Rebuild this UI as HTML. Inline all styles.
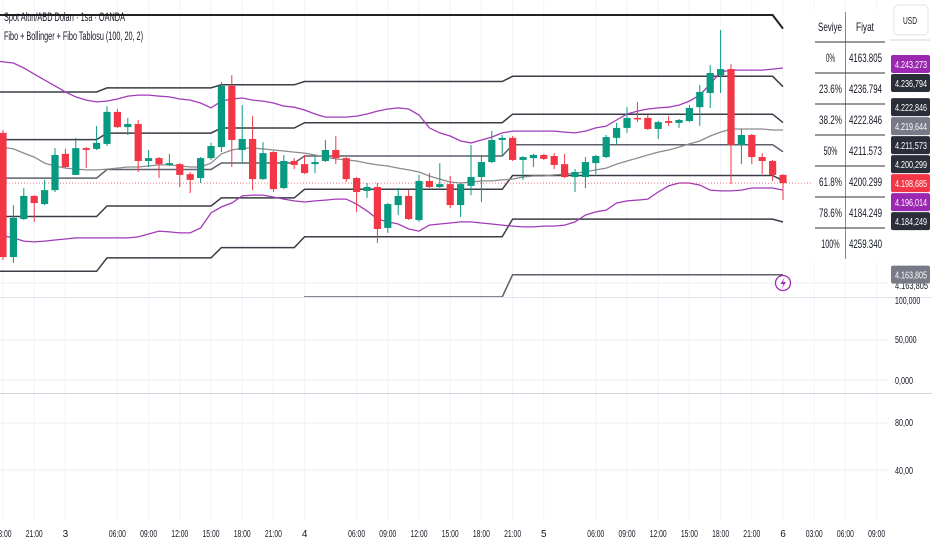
<!DOCTYPE html>
<html><head><meta charset="utf-8">
<style>
html,body{margin:0;padding:0;background:#fff;}
#wrap{position:relative;width:932px;height:550px;overflow:hidden;font-family:"Liberation Sans",sans-serif;}
svg{position:absolute;left:0;top:0;}
.t{font-family:"Liberation Sans",sans-serif;}
</style></head>
<body>
<div id="wrap">
<svg id="svg" width="932" height="550" viewBox="0 0 932 550"></svg>
</div>
<script>
const openArr=[4217.8,4170.5,4185.0,4193.8,4190.7,4196.0,4209.8,4201.8,4212.0,4211.7,4213.6,4225.8,4220.0,4221.2,4207.1,4208.2,4205.6,4205.9,4202.1,4200.6,4208.2,4212.4,4235.7,4211.3,4215.5,4200.2,4210.5,4196.8,4207.1,4205.9,4205.9,4207.1,4211.3,4208.2,4200.6,4195.7,4197.2,4181.6,4190.3,4193.8,4184.6,4199.5,4197.2,4198.3,4190.3,4197.6,4201.0,4206.7,4215.1,4215.9,4207.5,4208.2,4209.4,4209.0,4205.9,4201.0,4201.0,4206.3,4208.6,4215.9,4219.7,4223.5,4223.5,4219.3,4222.3,4221.6,4222.3,4227.6,4233.0,4239.8,4242.1,4213.2,4217.0,4208.6,4207.1,4201.8];
const highArr=[4218.9,4190.3,4196.8,4194.1,4199.9,4212.0,4211.7,4215.9,4212.4,4220.4,4228.0,4226.9,4223.5,4222.7,4211.3,4208.6,4209.8,4206.3,4202.9,4208.6,4214.0,4237.2,4239.8,4228.4,4224.2,4214.3,4210.9,4209.4,4208.2,4209.4,4208.6,4215.1,4216.6,4208.6,4201.0,4198.7,4198.7,4191.1,4196.8,4196.0,4201.8,4202.5,4206.3,4201.4,4198.7,4213.2,4209.4,4218.5,4217.0,4216.6,4209.0,4209.8,4209.8,4210.1,4209.8,4204.0,4208.6,4209.4,4217.0,4221.6,4227.6,4229.6,4224.6,4222.3,4224.2,4223.1,4228.4,4236.0,4243.6,4257.0,4244.0,4219.3,4217.4,4210.1,4207.5,4202.1];
const lowArr=[4169.4,4168.2,4184.6,4183.9,4190.3,4195.3,4204.4,4201.8,4204.4,4211.3,4212.8,4219.7,4217.0,4202.9,4204.8,4200.6,4205.2,4197.2,4194.9,4198.7,4207.5,4210.5,4204.8,4206.3,4196.0,4199.9,4195.3,4196.4,4204.0,4202.1,4202.5,4206.7,4205.9,4199.1,4187.7,4193.0,4175.9,4179.7,4186.5,4184.6,4183.9,4196.8,4196.8,4189.2,4185.8,4194.1,4191.5,4206.3,4209.4,4207.1,4199.9,4204.8,4207.5,4204.0,4200.6,4195.3,4196.8,4202.1,4208.2,4213.6,4217.8,4221.9,4218.9,4215.5,4220.4,4219.7,4221.9,4220.4,4227.3,4233.0,4198.3,4205.9,4205.9,4202.1,4199.5,4192.2];
const closeArr=[4170.5,4185.4,4193.8,4191.1,4196.0,4209.4,4204.8,4212.0,4211.3,4214.0,4225.8,4220.0,4221.2,4207.1,4208.2,4205.9,4206.3,4201.8,4199.9,4208.2,4212.8,4235.7,4215.1,4215.5,4200.2,4210.1,4196.4,4207.1,4205.6,4202.5,4206.7,4211.3,4208.2,4200.2,4195.3,4197.2,4181.2,4190.7,4193.8,4185.0,4199.5,4197.2,4198.3,4190.3,4198.3,4201.0,4206.7,4215.1,4215.9,4207.5,4208.6,4209.4,4207.9,4205.6,4201.0,4202.9,4206.7,4209.0,4216.2,4219.7,4223.5,4223.1,4219.3,4221.9,4221.6,4222.7,4227.3,4233.4,4240.6,4242.1,4213.2,4217.0,4208.6,4207.1,4201.8,4198.7];
const bbUpper=[4245.2,4244.4,4242.5,4240.2,4237.9,4235.7,4233.4,4231.5,4230.3,4229.6,4229.9,4230.7,4231.8,4232.2,4232.2,4231.8,4231.5,4230.7,4230.3,4229.2,4227.3,4229.9,4230.7,4231.1,4230.3,4229.9,4229.2,4228.0,4227.6,4226.5,4225.0,4223.8,4223.8,4223.8,4224.2,4225.0,4226.1,4226.9,4227.3,4226.9,4224.6,4219.7,4217.8,4216.6,4214.7,4214.0,4215.1,4216.2,4217.8,4218.5,4218.5,4218.5,4218.5,4218.5,4218.1,4217.8,4218.5,4219.7,4220.4,4222.7,4225.0,4226.1,4226.9,4227.3,4227.6,4228.4,4229.9,4232.2,4236.4,4241.0,4241.7,4241.7,4241.7,4241.7,4242.1,4242.5];
const bbMid=[4212.8,4211.7,4210.1,4208.6,4206.3,4205.2,4204.4,4204.0,4203.7,4203.7,4204.0,4204.4,4204.8,4204.8,4205.2,4205.6,4205.6,4205.2,4204.8,4204.8,4206.3,4209.8,4211.3,4212.0,4212.0,4211.7,4211.3,4210.9,4210.5,4210.1,4209.4,4208.6,4207.9,4207.5,4207.1,4206.3,4205.6,4205.2,4204.4,4203.7,4202.9,4201.4,4200.2,4199.1,4198.7,4199.1,4199.5,4199.5,4199.9,4200.2,4201.0,4201.4,4201.4,4201.8,4202.1,4202.5,4202.9,4203.7,4204.4,4205.9,4207.1,4208.2,4209.4,4210.5,4211.3,4212.4,4213.6,4214.7,4216.6,4218.1,4219.3,4219.3,4219.3,4219.3,4218.9,4218.9];
const bbLower=[4179.3,4177.8,4176.6,4176.3,4176.6,4177.0,4177.4,4177.8,4177.8,4177.8,4177.8,4177.8,4177.8,4178.2,4179.3,4180.4,4180.1,4179.7,4179.7,4181.6,4187.3,4189.6,4191.1,4193.8,4194.1,4194.1,4193.4,4192.6,4191.9,4191.5,4191.9,4192.2,4192.6,4192.6,4190.7,4188.1,4185.0,4183.9,4183.1,4181.2,4180.4,4182.7,4183.1,4183.5,4183.9,4183.9,4183.5,4183.1,4182.7,4182.3,4182.0,4182.0,4182.3,4182.3,4182.7,4183.9,4186.5,4187.7,4188.4,4191.1,4191.9,4192.2,4192.6,4195.3,4197.6,4198.7,4198.7,4197.9,4196.0,4195.7,4195.7,4196.0,4196.8,4196.8,4196.8,4196.0];
const fibHigh=[4262.7,4262.7,4262.7,4262.7,4262.7,4262.7,4262.7,4262.7,4262.7,4262.7,4262.7,4262.7,4262.7,4262.7,4262.7,4262.7,4262.7,4262.7,4262.7,4262.7,4262.7,4262.7,4262.7,4262.7,4262.7,4262.7,4262.7,4262.7,4262.7,4262.7,4262.7,4262.7,4262.7,4262.7,4262.7,4262.7,4262.7,4262.7,4262.7,4262.7,4262.7,4262.7,4262.7,4262.7,4262.7,4262.7,4262.7,4262.7,4262.7,4262.7,4262.7,4262.7,4262.7,4262.7,4262.7,4262.7,4262.7,4262.7,4262.7,4262.7,4262.7,4262.7,4262.7,4262.7,4262.7,4262.7,4262.7,4262.7,4262.7,4262.7,4262.7,4262.7,4262.7,4262.7,4262.7,4257.5];
const fibLow=[4138.5,4138.5,4138.5,4138.5,4138.5,4138.5,4138.5,4138.5,4138.5,4138.5,4145.0,4145.0,4145.0,4145.0,4145.0,4145.0,4145.0,4145.0,4145.0,4145.0,4145.0,4150.0,4150.0,4150.0,4150.0,4150.0,4150.0,4150.0,4150.0,4155.3,4155.3,4155.3,4155.3,4155.3,4155.3,4155.3,4155.3,4155.3,4155.3,4155.3,4155.3,4155.3,4155.3,4155.3,4155.3,4155.3,4155.3,4155.3,4155.3,4163.8,4163.8,4163.8,4163.8,4163.8,4163.8,4163.8,4163.8,4163.8,4163.8,4163.8,4163.8,4163.8,4163.8,4163.8,4163.8,4163.8,4163.8,4163.8,4163.8,4163.8,4163.8,4163.8,4163.8,4163.8,4163.8,4163.8];
const fibRatios=[0,0.236,0.382,0.5,0.618,0.786,1];
const tableLevels=["0%","23.6%","38.2%","50%","61.8%","78.6%","100%"];
const tablePrices=["4163.805","4236.794","4222.846","4211.573","4200.299","4184.249","4259.340"];
const axisLabelValues=[4243.273,4236.794,4222.846,4219.644,4211.573,4200.299,4198.685,4196.014,4184.249,4163.805];
const axisLabelTexts=["4.243,273","4.236,794","4.222,846","4.219,644","4.211,573","4.200,299","4.198,685","4.196,014","4.184,249","4.163,805"];
const axisLabelKinds=["purple","dark","dark","gray","dark","dark","red","purple","dark","gray"];
const timeTickIdx=[0,3,6,11,14,17,20,23,26,29,34,37,40,43,46,49,52,57,60,63,66,69,72,75,78,81,84];
const timeTickText=["18:00","21:00","3","06:00","09:00","12:00","15:00","18:00","21:00","4","06:00","09:00","12:00","15:00","18:00","21:00","5","06:00","09:00","12:00","15:00","18:00","21:00","6","03:00","06:00","09:00"];
const lowerPaneText=["100,000","50,000","0,000","80,00","40,00"];
const lowerPaneY=[300,339,380,422,470];

const NS="http://www.w3.org/2000/svg";
const svg=document.getElementById('svg');
const xOf=i=>3+10.4*i;
const yOf=p=>66+(4243.273-p)*2.626;
function mk(tag,attrs,parent){const e=document.createElementNS(NS,tag);for(const k in attrs)e.setAttribute(k,attrs[k]);(parent||svg).appendChild(e);return e;}
function condensed(t,len){t.setAttribute('textLength',len);t.setAttribute('lengthAdjust','spacingAndGlyphs');}

const grid=mk('g',{});


timeTickIdx.forEach(i=>{mk('line',{x1:xOf(i),x2:xOf(i),y1:0,y2:520,stroke:'#f0f3fa','stroke-width':1},grid);});
[283,340,380,423,470].forEach(y=>mk('line',{x1:0,x2:888,y1:y,y2:y,stroke:'#eceef2','stroke-width':1},grid));
mk('line',{x1:0,x2:932,y1:297.5,y2:297.5,stroke:'#e0e3eb','stroke-width':1},grid);
mk('line',{x1:0,x2:932,y1:393.5,y2:393.5,stroke:'#d1d4dc','stroke-width':1},grid);

const defs=mk('defs',{});
const cp=mk('clipPath',{id:'mainclip'},defs);
mk('rect',{x:0,y:0,width:888,height:297},cp);
const main=mk('g',{'clip-path':'url(#mainclip)'});



fibRatios.forEach((r,k)=>{
  let pts=[];
  for(let i=0;i<fibHigh.length;i++){const v=fibHigh[i]-(fibHigh[i]-fibLow[i])*r;pts.push((i===0?-10:xOf(i))+','+yOf(v).toFixed(1));}
  const pl=mk('polyline',{points:pts.join(' '),fill:'none',stroke:k===0?'#222':(k===3||k===6?'#5d606b':'#3a3d45'),'stroke-width':k===0?2:1.5},main);
  
  
});
function band(arr,color,name,w){
  const pts=arr.map((v,i)=>(i===0?-5:xOf(i))+','+yOf(v).toFixed(1)).join(' ');
  const pl=mk('polyline',{points:pts,fill:'none',stroke:color,'stroke-width':w},main);
  
  
}
band(bbUpper,'#a23bb8','bollinger-upper',1.3);
band(bbMid,'#8c8c8c','bollinger-basis',1.3);
band(bbLower,'#a23bb8','bollinger-lower',1.3);
const cpl=mk('line',{x1:0,x2:888,y1:yOf(4198.685),y2:yOf(4198.685),stroke:'#f23645','stroke-width':1,'stroke-dasharray':'1,2',opacity:0.7},main);


for(let i=0;i<openArr.length;i++){
  const up=closeArr[i]>=openArr[i];const c=up?'#089981':'#f23645';
  const g=mk('g',{},main);
  
  
  const x=xOf(i);
  mk('line',{x1:x,x2:x,y1:yOf(highArr[i]),y2:yOf(lowArr[i]),stroke:c,'stroke-width':1},g);
  const t=yOf(Math.max(openArr[i],closeArr[i])),b=yOf(Math.min(openArr[i],closeArr[i]));
  mk('rect',{x:x-3.6,y:t,width:7.2,height:Math.max(1.5,b-t),fill:c},g);
}
const li=mk('g',{});


mk('circle',{cx:783,cy:283,r:7.5,fill:'#fff',stroke:'#9c27b0','stroke-width':1.3},li);
mk('path',{d:'M784.5 277.5 L780.5 284 L783.5 284 L781.5 289 L786 282 L783 282 Z',fill:'#9c27b0'},li);

const h1=mk('text',{x:4,y:21,'font-size':11.5,fill:'#131722',class:'t'});
h1.textContent='Spot Altın/ABD Doları · 1sa · OANDA';
condensed(h1,121);


const h2=mk('text',{x:4,y:40,'font-size':11.5,fill:'#131722',class:'t'});
h2.textContent='Fibo + Bollinger + Fibo Tablosu (100, 20, 2)';
condensed(h2,139);



const tb=mk('g',{});


mk('rect',{x:812,y:10,width:76,height:252,fill:'#fff'},tb);
mk('line',{x1:845.5,x2:845.5,y1:12,y2:259,stroke:'#888','stroke-width':1},tb);
const th1=mk('text',{x:818,y:31,'font-size':12,fill:'#131722',class:'t'},tb);th1.textContent='Seviye';condensed(th1,24);
const th2=mk('text',{x:856,y:31,'font-size':12,fill:'#131722',class:'t'},tb);th2.textContent='Fiyat';condensed(th2,18);
for(let r=0;r<tableLevels.length;r++){
  const yl=42+r*31;
  mk('line',{x1:815,x2:885,y1:yl,y2:yl,stroke:'#333','stroke-width':1},tb);
  const a=mk('text',{x:830.5,y:yl+20,'font-size':12,'text-anchor':'middle',fill:'#131722',class:'t'},tb);a.textContent=tableLevels[r];
  condensed(a,tableLevels[r].length*4.6);
  
  
  const b=mk('text',{x:849,y:yl+20,'font-size':12,fill:'#131722',class:'t'},tb);b.textContent=tablePrices[r];
  condensed(b,33);
  
  
}

const ax=mk('g',{});


mk('rect',{x:894,y:5,width:34,height:30,rx:4,fill:'#fff',stroke:'#e0e3eb'},ax);
const usd=mk('text',{x:903,y:24,'font-size':10,fill:'#131722',class:'t'},ax);usd.textContent='USD';condensed(usd,14);


mk('line',{x1:890,x2:930,y1:40,y2:40,stroke:'#d1d4dc'},ax);
const colors={purple:'#9c27b0',dark:'#2a2e39',gray:'#787b86',red:'#f23645'};
const ghost=mk('text',{x:895,y:289,'font-size':10,fill:'#131722',class:'t'},ax);ghost.textContent='4.163,805';condensed(ghost,33);
// label collision layout anchored at current price label
const labelY=axisLabelValues.map(yOf);
const gap=19, anchor=6;
for(let k=anchor-1;k>=0;k--){labelY[k]=Math.min(labelY[k],labelY[k+1]-gap);}
for(let k=anchor+1;k<labelY.length;k++){labelY[k]=Math.max(labelY[k],labelY[k-1]+gap);}
axisLabelValues.forEach((v,k)=>{
  const y=labelY[k];
  const g=mk('g',{},ax);
  
  
  mk('rect',{x:891,y:y-9,width:39,height:18,rx:2,fill:colors[axisLabelKinds[k]]},g);
  const t=mk('text',{x:895,y:y+4,'font-size':10.5,fill:'#fff',class:'t'},g);t.textContent=axisLabelTexts[k];
  condensed(t,32);
});
lowerPaneText.forEach((s,k)=>{
  const t=mk('text',{x:895,y:lowerPaneY[k]+4,'font-size':10,fill:'#131722',class:'t'},ax);t.textContent=s;
  condensed(t,s.length*3.6);
  
  
});
const ta=mk('g',{});


timeTickIdx.forEach((i,k)=>{
  const t=mk('text',{x:xOf(i),y:537,'font-size':10,'text-anchor':'middle',fill:'#131722',class:'t'},ta);
  t.textContent=timeTickText[k];
  if(timeTickText[k].length>1)condensed(t,17);
  
  
});
</script>
</body></html>
